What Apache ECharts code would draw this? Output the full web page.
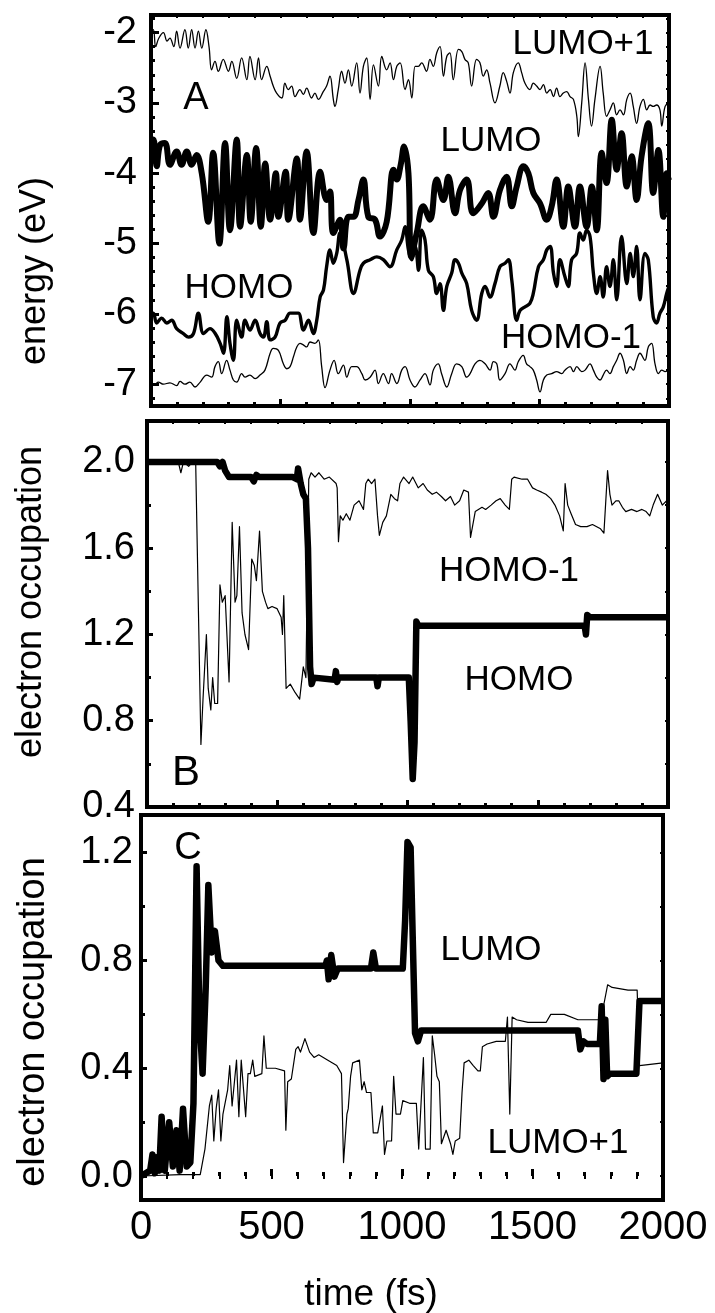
<!DOCTYPE html>
<html>
<head>
<meta charset="utf-8">
<script src="https://cdn.jsdelivr.net/npm/echarts@6/dist/echarts.min.js"></script>
<style>
  html, body { margin: 0; padding: 0; background: #fff; }
  #chart { width: 715px; height: 1313px; }
</style>
</head>
<body>
<div id="chart"></div>
<script>
// time axis (fs)
const timeTicks = [0, 500, 1000, 1500, 2000]

// panel A: orbital energies (eV), [time, energy]
const energyTicks = [-2, -3, -4, -5, -6, -7]
const lumoPlus1A = [[0,-1.97],[9,-1.96],[18,-2.2],[30,-2.08],[48,-2.0],[62,-2.12],[73,-2.08],[88,-2.2],[99,-1.98],[112,-2.22],[131,-1.96],[144,-2.22],[157,-1.96],[170,-2.22],[183,-1.98],[196,-2.22],[212,-1.96],[224,-2.2],[234,-2.53],[247,-2.41],[260,-2.55],[279,-2.38],[299,-2.55],[312,-2.41],[331,-2.65],[350,-2.36],[370,-2.67],[382,-2.34],[402,-2.67],[415,-2.36],[427,-2.67],[447,-2.48],[460,-2.62],[472,-2.76],[485,-2.86],[505,-2.93],[517,-2.72],[530,-2.81],[543,-2.76],[556,-2.91],[575,-2.81],[588,-2.88],[601,-2.79],[620,-2.93],[633,-2.86],[646,-2.95],[665,-2.84],[678,-2.76],[691,-2.62],[704,-2.95],[710,-3.05],[723,-2.81],[736,-2.55],[749,-2.72],[762,-2.53],[775,-2.76],[794,-2.43],[807,-2.86],[820,-2.48],[833,-2.36],[846,-2.95],[859,-2.46],[878,-2.76],[891,-2.34],[910,-2.53],[923,-2.43],[936,-2.67],[949,-2.48],[962,-2.43],[981,-2.81],[994,-2.67],[1007,-2.93],[1020,-2.48],[1032,-2.48],[1045,-2.43],[1064,-2.55],[1077,-2.38],[1090,-2.48],[1103,-2.29],[1116,-2.2],[1129,-2.62],[1142,-2.34],[1154,-2.29],[1167,-2.67],[1187,-2.24],[1200,-2.27],[1212,-2.38],[1225,-2.43],[1238,-2.76],[1257,-2.38],[1270,-2.43],[1283,-2.62],[1296,-2.53],[1309,-2.72],[1328,-3.0],[1347,-2.76],[1360,-2.57],[1373,-2.69],[1386,-2.86],[1399,-2.57],[1418,-2.43],[1431,-2.57],[1444,-2.72],[1463,-2.81],[1476,-2.72],[1489,-2.76],[1502,-2.81],[1515,-2.74],[1528,-2.86],[1541,-2.81],[1554,-2.91],[1566,-2.79],[1579,-2.91],[1592,-2.86],[1605,-2.84],[1618,-2.91],[1631,-2.95],[1644,-3.19],[1650,-3.48],[1663,-3.0],[1676,-2.43],[1689,-2.95],[1701,-3.33],[1714,-2.95],[1734,-2.48],[1746,-2.86],[1759,-3.19],[1772,-3.1],[1785,-3.0],[1798,-3.17],[1811,-3.1],[1824,-3.17],[1837,-2.95],[1850,-2.86],[1862,-3.05],[1875,-3.29],[1888,-3.05],[1901,-2.95],[1914,-3.1],[1927,-3.03],[1939,-3.05],[1952,-3.03],[1965,-3.1],[1972,-3.33],[1985,-3.05],[2000,-3.0]]
const lumoA = [[0,-3.55],[9,-3.52],[22,-3.9],[35,-3.6],[54,-3.57],[73,-3.88],[99,-3.69],[118,-3.88],[138,-3.69],[157,-3.88],[176,-3.74],[196,-4.0],[221,-4.69],[240,-3.71],[264,-5.0],[286,-3.57],[305,-4.81],[331,-3.52],[344,-4.76],[370,-3.74],[385,-4.69],[406,-3.64],[424,-4.76],[441,-3.86],[460,-4.66],[482,-4.0],[492,-4.62],[520,-3.98],[530,-4.66],[563,-3.79],[575,-4.66],[601,-3.69],[627,-4.85],[653,-3.98],[678,-4.38],[691,-4.26],[704,-4.85],[730,-4.66],[743,-5.07],[762,-4.62],[782,-4.62],[801,-4.38],[820,-4.09],[839,-4.62],[865,-4.66],[884,-4.9],[910,-4.69],[936,-3.95],[949,-4.09],[964,-3.88],[977,-3.62],[994,-4.0],[1005,-5.19],[1026,-4.85],[1051,-4.47],[1077,-4.66],[1103,-4.09],[1129,-4.38],[1148,-4.05],[1174,-4.57],[1193,-4.24],[1219,-4.09],[1244,-4.57],[1277,-4.43],[1302,-4.28],[1322,-4.62],[1347,-4.24],[1373,-4.05],[1393,-4.47],[1412,-4.19],[1438,-3.9],[1457,-4.0],[1476,-4.28],[1502,-4.43],[1528,-4.66],[1547,-4.47],[1566,-4.09],[1592,-4.76],[1611,-4.19],[1637,-4.76],[1656,-4.19],[1682,-4.76],[1702,-4.19],[1721,-4.81],[1740,-3.71],[1759,-4.14],[1779,-3.24],[1798,-3.95],[1817,-3.43],[1837,-4.19],[1856,-3.76],[1875,-4.38],[1894,-3.76],[1920,-3.29],[1939,-4.28],[1959,-3.67],[1978,-4.62],[1991,-4.0],[2000,-4.1]]
const homoA = [[0,-5.99],[9,-5.99],[22,-6.13],[41,-6.06],[61,-6.13],[80,-6.09],[99,-6.21],[125,-6.28],[145,-6.33],[164,-6.28],[183,-5.99],[203,-6.28],[228,-6.21],[248,-6.28],[267,-6.42],[280,-6.56],[293,-6.04],[305,-6.42],[318,-6.66],[331,-6.09],[350,-6.33],[363,-6.09],[382,-6.23],[402,-6.09],[421,-6.28],[434,-6.33],[447,-6.11],[460,-6.37],[479,-6.33],[498,-6.13],[518,-6.09],[537,-5.99],[556,-5.99],[569,-5.99],[589,-6.23],[608,-6.09],[627,-6.28],[640,-6.09],[653,-5.76],[666,-5.66],[678,-5.33],[691,-5.09],[704,-5.28],[717,-5.14],[730,-4.85],[756,-5.23],[782,-5.71],[807,-5.38],[820,-5.28],[846,-5.23],[872,-5.19],[897,-5.23],[923,-5.33],[949,-5.09],[968,-4.95],[981,-4.76],[994,-5.09],[1007,-5.23],[1020,-5.04],[1033,-5.38],[1045,-4.81],[1058,-4.95],[1071,-5.38],[1090,-5.47],[1103,-5.71],[1116,-5.57],[1129,-5.95],[1142,-5.61],[1161,-5.42],[1174,-5.23],[1187,-5.28],[1200,-5.42],[1219,-5.57],[1238,-5.95],[1257,-6.09],[1277,-5.71],[1290,-5.61],[1309,-5.76],[1328,-5.57],[1347,-5.33],[1367,-5.28],[1380,-5.23],[1393,-5.52],[1412,-6.09],[1425,-5.95],[1444,-5.9],[1463,-5.85],[1476,-5.71],[1496,-5.33],[1515,-5.23],[1528,-5.09],[1541,-5.04],[1554,-5.42],[1566,-5.61],[1579,-5.23],[1598,-5.47],[1611,-5.61],[1624,-5.23],[1643,-5.14],[1656,-4.85],[1669,-4.95],[1682,-4.81],[1695,-4.9],[1708,-5.42],[1721,-5.71],[1734,-5.47],[1746,-5.76],[1759,-5.33],[1772,-5.61],[1785,-5.23],[1798,-5.8],[1817,-4.9],[1837,-5.57],[1850,-5.14],[1862,-5.47],[1875,-5.04],[1888,-5.8],[1907,-5.14],[1920,-5.23],[1939,-6.04],[1952,-6.13],[1965,-5.99],[1978,-5.9],[1991,-5.71],[2000,-5.61]]
const homoMinus1A = [[0,-6.99],[15,-7.0],[28,-6.97],[48,-7.0],[73,-6.98],[99,-7.02],[112,-6.96],[131,-7.0],[150,-6.97],[170,-7.04],[190,-6.97],[215,-6.87],[234,-6.9],[247,-6.75],[260,-6.68],[273,-6.85],[292,-6.66],[305,-6.8],[318,-6.94],[331,-6.97],[350,-6.85],[363,-6.9],[382,-6.87],[402,-6.92],[421,-6.87],[440,-6.8],[460,-6.56],[472,-6.49],[492,-6.52],[511,-6.71],[524,-6.78],[537,-6.75],[550,-6.61],[563,-6.47],[575,-6.42],[588,-6.44],[601,-6.47],[614,-6.4],[633,-6.42],[646,-6.37],[659,-6.75],[672,-7.05],[691,-6.8],[707,-6.66],[723,-6.85],[743,-6.73],[756,-6.9],[775,-6.75],[794,-6.75],[814,-6.85],[827,-6.94],[846,-6.9],[865,-6.8],[878,-6.99],[897,-6.85],[917,-6.99],[929,-6.85],[949,-6.99],[968,-6.8],[981,-6.75],[1000,-6.94],[1019,-7.04],[1039,-6.94],[1058,-6.85],[1077,-7.01],[1090,-6.8],[1109,-6.71],[1122,-6.85],[1142,-7.04],[1161,-6.85],[1180,-6.71],[1200,-6.75],[1219,-6.9],[1232,-6.85],[1251,-6.71],[1270,-6.66],[1290,-6.71],[1309,-6.8],[1322,-6.68],[1335,-6.71],[1347,-6.94],[1367,-6.85],[1386,-6.71],[1405,-6.8],[1418,-6.68],[1437,-6.59],[1450,-6.71],[1463,-6.75],[1476,-6.8],[1489,-6.94],[1502,-7.11],[1515,-6.94],[1528,-6.87],[1547,-6.85],[1566,-6.82],[1586,-6.85],[1598,-6.8],[1618,-6.75],[1631,-6.82],[1644,-6.75],[1663,-6.82],[1676,-6.8],[1695,-6.71],[1708,-6.8],[1721,-6.9],[1734,-6.94],[1746,-6.87],[1759,-6.8],[1772,-6.85],[1785,-6.75],[1798,-6.66],[1811,-6.56],[1824,-6.66],[1837,-6.85],[1850,-6.75],[1862,-6.8],[1875,-6.66],[1888,-6.56],[1907,-6.66],[1920,-6.47],[1933,-6.42],[1946,-6.71],[1959,-6.85],[1972,-6.8],[1985,-6.82],[2000,-6.8]]

// panel B: occupation of HOMO / HOMO-1
const occBTicks = [2.0, 1.6, 1.2, 0.8, 0.4]
const homoMinus1B = [[0,2.0],[120,2.0],[130,1.95],[140,2.0],[160,1.98],[175,2.0],[187,1.99],[207,0.69],[215,0.9],[228,1.2],[235,0.95],[245,0.85],[252,1.0],[260,0.88],[271,0.88],[280,1.43],[289,1.35],[300,1.38],[315,0.98],[327,1.72],[338,1.35],[345,1.38],[355,1.7],[365,1.3],[376,1.2],[390,1.13],[402,1.55],[412,1.52],[420,1.45],[432,1.68],[443,1.4],[455,1.35],[464,1.32],[480,1.33],[499,1.32],[515,1.28],[520,1.2],[525,1.38],[534,0.95],[550,0.97],[569,0.93],[586,0.9],[600,1.05],[610,1.0],[621,1.92],[630,1.95],[645,1.93],[660,1.95],[680,1.92],[700,1.93],[726,1.9],[730,1.88],[735,1.63],[742,1.75],[752,1.73],[765,1.76],[779,1.73],[795,1.8],[814,1.82],[831,1.78],[840,1.9],[849,1.92],[862,1.9],[875,1.92],[885,1.75],[892,1.66],[905,1.72],[919,1.75],[936,1.85],[950,1.83],[962,1.82],[971,1.9],[985,1.93],[1006,1.9],[1020,1.93],[1041,1.88],[1060,1.9],[1076,1.87],[1095,1.85],[1111,1.86],[1130,1.84],[1146,1.82],[1165,1.84],[1181,1.8],[1200,1.82],[1216,1.87],[1234,1.86],[1242,1.65],[1260,1.77],[1286,1.79],[1300,1.78],[1321,1.8],[1340,1.82],[1356,1.83],[1375,1.8],[1391,1.78],[1400,1.92],[1409,1.93],[1440,1.92],[1461,1.92],[1480,1.88],[1496,1.87],[1515,1.86],[1531,1.85],[1550,1.83],[1566,1.8],[1584,1.75],[1598,1.68],[1605,1.9],[1615,1.8],[1628,1.76],[1645,1.71],[1665,1.7],[1689,1.7],[1710,1.71],[1741,1.69],[1754,1.67],[1768,1.96],[1777,1.85],[1785,1.8],[1800,1.82],[1811,1.82],[1825,1.79],[1838,1.77],[1860,1.78],[1881,1.77],[1900,1.78],[1916,1.77],[1930,1.75],[1943,1.8],[1960,1.85],[1978,1.8],[1995,1.82],[2000,1.8]]
const homoB = [[0,2.0],[270,2.0],[280,1.98],[290,2.0],[300,1.96],[315,1.93],[400,1.93],[410,1.91],[420,1.94],[430,1.93],[560,1.93],[575,1.92],[580,1.97],[590,1.9],[600,1.85],[610,1.83],[618,1.6],[626,1.05],[632,0.97],[640,1.0],[720,0.99],[725,1.03],[730,0.98],[735,1.0],[880,1.0],[885,0.96],[890,1.0],[1005,1.0],[1012,0.8],[1020,0.53],[1027,0.7],[1034,1.26],[1042,1.24],[1680,1.24],[1685,1.2],[1690,1.29],[1700,1.28],[2000,1.28]]

// panel C: occupation of LUMO / LUMO+1
const occCTicks = [1.2, 0.8, 0.4, 0.0]
const lumoC = [[0,0.0],[35,0.02],[44,0.08],[53,0.01],[61,0.07],[70,0.02],[79,0.22],[91,0.02],[108,0.2],[122,0.035],[136,0.17],[148,0.02],[161,0.25],[175,0.035],[189,0.05],[201,0.27],[213,1.15],[224,0.58],[236,0.38],[248,0.7],[258,1.08],[271,0.83],[283,0.91],[297,0.8],[314,0.78],[707,0.78],[712,0.8],[719,0.73],[729,0.82],[741,0.74],[754,0.77],[881,0.77],[890,0.83],[900,0.77],[1003,0.77],[1012,0.95],[1021,1.24],[1033,1.22],[1041,0.89],[1050,0.53],[1061,0.5],[1073,0.54],[1674,0.54],[1683,0.47],[1695,0.5],[1709,0.49],[1758,0.49],[1765,0.63],[1772,0.36],[1779,0.58],[1786,0.37],[1797,0.38],[1898,0.38],[1910,0.65],[2000,0.65]]
const lumoPlus1C = [[0,0.0],[150,0.005],[227,0.005],[245,0.1],[262,0.26],[271,0.3],[279,0.13],[288,0.25],[297,0.32],[306,0.13],[314,0.23],[332,0.32],[340,0.41],[349,0.26],[366,0.43],[375,0.22],[384,0.43],[401,0.22],[410,0.38],[419,0.38],[428,0.43],[436,0.37],[463,0.38],[471,0.52],[480,0.4],[489,0.4],[515,0.4],[550,0.39],[555,0.17],[562,0.35],[576,0.36],[593,0.47],[602,0.48],[611,0.46],[628,0.51],[646,0.46],[663,0.44],[681,0.45],[716,0.43],[750,0.41],[768,0.38],[776,0.05],[789,0.23],[794,0.25],[803,0.37],[811,0.42],[837,0.43],[846,0.32],[855,0.35],[864,0.31],[881,0.31],[890,0.16],[907,0.16],[925,0.26],[933,0.08],[942,0.13],[960,0.13],[968,0.37],[977,0.23],[994,0.23],[1003,0.28],[1029,0.27],[1055,0.27],[1064,0.1],[1082,0.44],[1090,0.1],[1108,0.1],[1116,0.52],[1125,0.45],[1134,0.37],[1143,0.35],[1151,0.12],[1169,0.17],[1186,0.12],[1195,0.08],[1204,0.13],[1221,0.14],[1230,0.31],[1238,0.42],[1256,0.43],[1273,0.41],[1291,0.39],[1300,0.39],[1308,0.48],[1326,0.49],[1361,0.5],[1396,0.5],[1404,0.59],[1413,0.23],[1422,0.59],[1439,0.58],[1483,0.57],[1552,0.57],[1570,0.6],[1622,0.6],[1674,0.58],[1709,0.58],[1762,0.58],[1788,0.71],[1805,0.7],[1866,0.69],[1901,0.69],[1910,0.41],[2000,0.42]]

const FONT = 'Liberation Sans, Arial, Helvetica, sans-serif'
const grids = [
  { left: 151, top: 15, width: 518, height: 391 },
  { left: 147, top: 421, width: 521, height: 386 },
  { left: 141, top: 815, width: 522, height: 385 }
]
const yRanges = [[-7.31, -1.75], [0.4, 2.19], [-0.089, 1.34]]
const yMajor = [energyTicks, occBTicks, occCTicks]
const yMinorStep = [0.2, 0.2, 0.2]
const yMargins = [14, 12, 8]
const yLabelSize = 38

function steps(min, max, step) {
  const out = []
  const start = Math.ceil(min / step - 1e-9)
  const end = Math.floor(max / step + 1e-9)
  for (let i = start; i <= end; i++) out.push(+(i * step).toFixed(4))
  return out
}

const xAxes = []
const yAxes = []
grids.forEach((g, i) => {
  // bottom axis with major + minor ticks
  xAxes.push({
    gridIndex: i, type: 'value', min: 0, max: 2000, interval: 500, position: 'bottom',
    axisLine: { show: false }, splitLine: { show: false },
    axisTick: { inside: true, length: 7, lineStyle: { width: 3, color: '#000' } },
    minorTick: { show: true, splitNumber: 5, length: 4, lineStyle: { width: 3, color: '#000' } },
    axisLabel: {
      show: i === 2, customValues: timeTicks, margin: 8, fontSize: 40, fontFamily: FONT, color: '#000',
      formatter: v => String(v)
    }
  })
  // top axis, only small ticks
  xAxes.push({
    gridIndex: i, type: 'value', min: 0, max: 2000, interval: 100, position: 'top',
    axisLine: { show: false }, splitLine: { show: false },
    axisTick: { inside: true, length: 3, lineStyle: { width: 2, color: '#000' } },
    axisLabel: { show: false }
  })
  const [mn, mx] = yRanges[i]
  const minor = steps(mn, mx, yMinorStep[i])
  yAxes.push({
    gridIndex: i, type: 'value', min: mn, max: mx, position: 'left',
    axisLine: { show: false }, splitLine: { show: false },
    axisTick: { inside: true, length: i === 0 ? 8 : 6, customValues: yMajor[i], lineStyle: { width: 3, color: '#000' } },
    axisLabel: {
      customValues: yMajor[i], margin: yMargins[i], fontSize: yLabelSize, fontFamily: FONT, color: '#000',
      formatter: v => (i === 0 ? String(Math.round(v)) : Number(v).toFixed(1))
    }
  })
  yAxes.push({
    gridIndex: i, type: 'value', min: mn, max: mx, position: 'left',
    axisLine: { show: false }, splitLine: { show: false },
    axisTick: { inside: true, length: 4, customValues: minor, lineStyle: { width: 3, color: '#000' } },
    axisLabel: { show: false }
  })
  yAxes.push({
    gridIndex: i, type: 'value', min: mn, max: mx, position: 'right',
    axisLine: { show: false }, splitLine: { show: false },
    axisTick: { inside: true, length: 3, customValues: minor, lineStyle: { width: 2, color: '#000' } },
    axisLabel: { show: false }
  })
})

function line(panel, data, width, smooth) {
  return {
    type: 'line', xAxisIndex: panel * 2, yAxisIndex: panel * 3, data: data,
    symbol: 'none', smooth: smooth, clip: true,
    lineStyle: { width: width, color: '#000', join: 'round' }
  }
}

function txt(x, y, text, size, rot) {
  return {
    type: 'text', x: x, y: y, rotation: rot || 0, silent: true,
    style: { text: text, font: size + 'px ' + FONT, fill: '#000', align: 'center', verticalAlign: 'middle' }
  }
}

const chart = echarts.init(document.getElementById('chart'), null, { renderer: 'canvas' })
chart.setOption({
  animation: false,
  backgroundColor: '#fff',
  grid: grids.map(g => Object.assign({ show: true, borderColor: '#000', borderWidth: 4, backgroundColor: 'transparent' }, g)),
  xAxis: xAxes,
  yAxis: yAxes,
  series: [
    line(0, lumoPlus1A, 1.3, 0.4),
    line(0, lumoA, 6, 0.4),
    line(0, homoA, 3.4, 0.4),
    line(0, homoMinus1A, 1.3, 0.4),
    line(1, homoMinus1B, 1.2, false),
    line(1, homoB, 6.5, false),
    line(2, lumoPlus1C, 1.2, false),
    line(2, lumoC, 6.5, false)
  ],
  graphic: [
    txt(35, 271, 'energy (eV)', 36, Math.PI / 2),
    txt(31, 602, 'electron occupation', 36, Math.PI / 2),
    txt(34, 1022, 'electron occupation', 38, Math.PI / 2),
    txt(371, 1295, 'time (fs)', 37),
    txt(196, 99, 'A', 38),
    txt(186, 773, 'B', 42),
    txt(188, 849, 'C', 38),
    txt(583, 44, 'LUMO+1', 35),
    txt(491, 141, 'LUMO', 35),
    txt(239, 288, 'HOMO', 35),
    txt(571, 338, 'HOMO-1', 35),
    txt(509, 571, 'HOMO-1', 35),
    txt(519, 680, 'HOMO', 35),
    txt(491, 950, 'LUMO', 35),
    txt(558, 1143, 'LUMO+1', 35)
  ]
})
</script>
</body>
</html>
